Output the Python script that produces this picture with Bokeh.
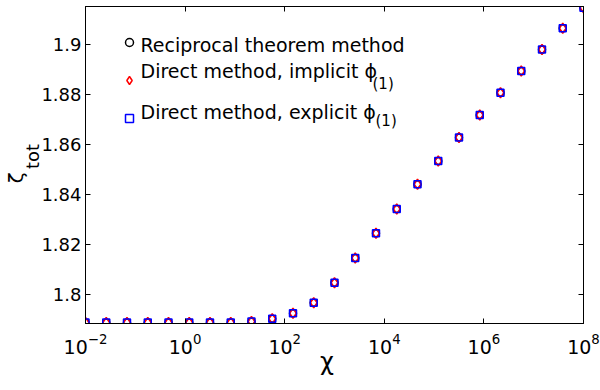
from bokeh.plotting import figure
from bokeh.models import (Range1d, LogAxis, LinearAxis, FixedTicker, CustomJSTickFormatter,
                          Label, Legend, LegendItem)
from bokeh.embed import file_html
from bokeh.resources import INLINE

# ---- data ----
chi = [0.01, 0.0261, 0.0681, 0.178, 0.464, 1.21, 3.16, 8.25, 21.5, 56.2,
       146.8, 383, 1000, 2610, 6810, 17780, 46420, 121200, 316200, 825400,
       2154000, 5623000, 14680000, 38310000, 100000000]
zeta_reciprocal = [1.7888, 1.7888, 1.7888, 1.7888, 1.7888, 1.7888, 1.7888, 1.7888,
                   1.7892, 1.7903, 1.7925, 1.7967, 1.8047, 1.8146, 1.8245, 1.8342,
                   1.8441, 1.8534, 1.8628, 1.8718, 1.8807, 1.8894, 1.8980, 1.9065, 1.9147]
zeta_implicit = [1.7888, 1.7888, 1.7888, 1.7888, 1.7888, 1.7888, 1.7888, 1.7888,
                 1.7892, 1.7903, 1.7925, 1.7967, 1.8047, 1.8146, 1.8245, 1.8342,
                 1.8441, 1.8534, 1.8628, 1.8718, 1.8807, 1.8894, 1.8980, 1.9065, 1.9147]
zeta_explicit = [1.7888, 1.7888, 1.7888, 1.7888, 1.7888, 1.7888, 1.7888, 1.7888,
                 1.7892, 1.7903, 1.7925, 1.7967, 1.8047, 1.8146, 1.8245, 1.8342,
                 1.8441, 1.8534, 1.8628, 1.8718, 1.8807, 1.8894, 1.8980, 1.9065, 1.9147]
x_ticks = [1e-2, 1e0, 1e2, 1e4, 1e6, 1e8]
y_ticks = [1.8, 1.82, 1.84, 1.86, 1.88, 1.9]
legend_labels = ["Reciprocal theorem method", "Direct method, implicit \u03d5",
                 "Direct method, explicit \u03d5"]
FONT = "DejaVu Sans"
NB = "\u00a0"

p = figure(width=600, height=390, x_axis_type="log",
           x_range=Range1d(1e-2, 1e8), y_range=Range1d(1.7884, 1.9152),
           output_backend="svg", toolbar_location=None,
           min_border_left=85, min_border_right=17, min_border_top=6, min_border_bottom=67)
p.grid.visible = False
p.outline_line_color = "black"
p.outline_line_width = 1
p.background_fill_color = "white"
p.border_fill_color = "white"

def style_axis(ax, show_labels, size="17px"):
    ax.major_tick_in = 5
    ax.major_tick_out = 0
    ax.minor_tick_in = 0
    ax.minor_tick_out = 0
    ax.axis_line_color = "black"
    ax.major_tick_line_color = "black"
    ax.major_label_text_color = "black"
    ax.major_label_text_font = FONT
    ax.axis_label_text_font = FONT
    ax.axis_label_text_font_style = "normal"
    ax.axis_label_text_color = "black"
    if show_labels:
        ax.major_label_text_font_size = size
    else:
        ax.major_label_text_font_size = "1px"
        ax.major_label_text_alpha = 0
        ax.major_label_standoff = 0

xax = p.xaxis[0]
xax.ticker = FixedTicker(ticks=x_ticks)
style_axis(xax, True, "19px")
xax.major_label_standoff = 9
xax.axis_label = "\u03c7" + NB * 2
xax.axis_label_text_font_size = "24px"
xax.axis_label_standoff = -9

yax = p.yaxis[0]
yax.ticker = FixedTicker(ticks=y_ticks)
yax.formatter = CustomJSTickFormatter(code="return tick.toFixed(2).replace(/0$/, '');")
style_axis(yax, True, "18px")
yax.major_label_standoff = 4
yax.axis_label = NB * 3 + "tot"
yax.axis_label_text_font_size = "18px"
yax.axis_label_standoff = -5

# outer left axis only carries the main symbol of the y title
yax2 = LinearAxis(ticker=FixedTicker(ticks=[]))
style_axis(yax2, False)
yax2.major_tick_in = 0
yax2.axis_line_alpha = 0
yax2.axis_label = "\u03b6" + NB * 4
yax2.axis_label_text_font_size = "20px"
yax2.axis_label_standoff = -8
p.add_layout(yax2, "left")

top = LogAxis(ticker=FixedTicker(ticks=x_ticks))
style_axis(top, False)
p.add_layout(top, "above")
right = LinearAxis(ticker=FixedTicker(ticks=y_ticks))
style_axis(right, False)
p.add_layout(right, "right")

r1 = p.scatter(chi, zeta_reciprocal, marker="circle", size=7, line_color="black",
               fill_color=None, line_width=1.5)
r2 = p.scatter(chi, zeta_implicit, marker="diamond", size=10, line_color="red",
               fill_color=None, line_width=1.5)
r3 = p.scatter(chi, zeta_explicit, marker="square", size=7, line_color="blue",
               fill_color=None, line_width=1.5)

legend = Legend(items=[LegendItem(label=" ", renderers=[r1]),
                       LegendItem(label=" ", renderers=[r2]),
                       LegendItem(label=" ", renderers=[r3])],
                location=(34, 195), padding=0, margin=0, spacing=18,
                glyph_height=20, glyph_width=20, label_height=20,
                border_line_alpha=0, background_fill_alpha=0)
p.add_layout(legend)

def lab(x, y, text, size):
    p.add_layout(Label(x=x, y=y, x_units="screen", y_units="screen", text=text,
                       text_font=FONT, text_font_size=size, text_align="left",
                       text_baseline="middle", text_color="black"))

lab(55, 279, legend_labels[0], "19px")
lab(55, 253, legend_labels[1], "19px")
lab(287, 240, "(1)", "15px")
lab(55, 212, legend_labels[2], "19px")
lab(290, 203, "(1)", "15px")

open("out.html", "w").write(file_html(p, INLINE))
